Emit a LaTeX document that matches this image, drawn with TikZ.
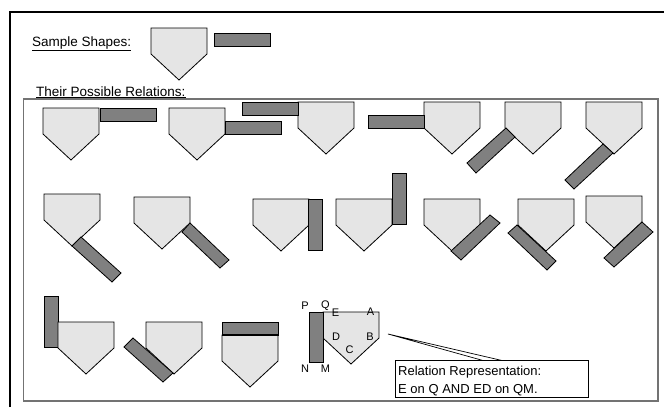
\documentclass[tikz,border=0pt]{standalone}
\usepackage{fontspec}
\setmainfont{Liberation Sans}
\newcommand\pentshape[2]{\draw[pentstyle] (#1,#2) -- ++(56,0) -- ++(0,26) -- ++(-28,26) -- ++(-28,-26) -- cycle;}
\newcommand\horizbar[2]{\draw[barstyle] (#1,#2) rectangle ++(56,13);}
\newcommand\vertbar[2]{\draw[barstyle] (#1,#2) rectangle ++(14,51);}
\begin{document}
\begin{tikzpicture}[x=1pt,y=-1pt,
  pentstyle/.style={draw=black,fill=black!10,line width=0.8pt,line join=miter},
  barstyle/.style={draw=black,fill=black!50,line width=0.8pt},
  lbl/.style={font=\fontsize{11}{12}\selectfont,inner sep=0pt,anchor=center},
  head/.style={font=\fontsize{13.5}{15}\selectfont,inner sep=0pt,anchor=base west}]
\useasboundingbox (0,0) rectangle (664,407);
\fill[white] (0,0) rectangle (664,407);
% outer frame (open to right and bottom)
\draw[line width=2pt] (10,407) -- (10,12) -- (664,12);
% inner box
\draw[draw=black!55,line width=1.5pt] (23.5,99) rectangle (658,401);
% headings
\node[head] (ss) at (32,46) {\underline{Sample Shapes:}};
\node[head] (tpr) at (36,96) {\underline{Their Possible Relations:}};
% sample shapes
\pentshape{151}{28}
\horizbar{214}{33}
% row 1
\pentshape{43}{108}  \horizbar{100}{108}
\pentshape{169}{108} \horizbar{225}{121}
\pentshape{298}{102} \horizbar{242}{102}
\pentshape{424}{102} \horizbar{368}{115}
\pentshape{505}{102}
\draw[barstyle] (506,128) -- (515,137) -- (476,173) -- (467,163) -- cycle;
\pentshape{586}{102}
\draw[barstyle] (603,144) -- (613,153) -- (574,189) -- (565,180) -- cycle;
% row 2
\pentshape{44}{194}
\draw[barstyle] (72,246) -- (81,237) -- (121,273) -- (112,282) -- cycle;
\pentshape{134}{197}
\draw[barstyle] (190,223) -- (182,232) -- (220,268) -- (229,260) -- cycle;
\pentshape{253}{199} \vertbar{308}{199}
\pentshape{336}{199} \vertbar{392}{173}
\pentshape{424}{199}
\draw[barstyle] (451,251) -- (461,260) -- (500,223) -- (490,215) -- cycle;
\pentshape{518}{199}
\draw[barstyle] (517,225) -- (508,233) -- (547,270) -- (556,261) -- cycle;
\pentshape{586}{196}
\draw[barstyle] (642,222) -- (653,232) -- (614,267) -- (604,258) -- cycle;
% row 3
\vertbar{44}{296} \pentshape{58}{322}
\pentshape{146}{322}
\draw[barstyle] (133,338) -- (124,347) -- (163,382) -- (173,373) -- cycle;
\pentshape{222}{335}
\draw[barstyle] (222,322) rectangle (278,335);
\draw[line width=2pt] (222,335) -- (278,335);
% labelled example
\pentshape{323}{312}
\draw[barstyle] (309,312) rectangle (323,362);
\node[lbl] (P) at (305,306) {P};
\node[lbl] (Q) at (325.5,306) {Q};
\node[lbl] (E) at (335.5,313) {E};
\node[lbl] (A) at (370.5,312) {A};
\node[lbl] (D) at (336,337) {D};
\node[lbl] (B) at (370,337) {B};
\node[lbl] (C) at (349.7,350) {C};
\node[lbl] (N) at (305,369) {N};
\node[lbl] (M) at (325.5,369) {M};
% callout
\coordinate (tip) at (388,334);
\coordinate (w1) at (483,360.5);
\coordinate (w2) at (502,360.5);
\draw[fill=white,line width=0.7pt] (w1) -- (tip) -- (w2);
\node[draw=black,fill=white,line width=0.8pt,minimum width=193pt,minimum height=37pt,inner sep=0pt,anchor=north west] (box) at (395,360) {};
\node[font=\fontsize{13}{14}\selectfont,inner sep=0pt,anchor=base west] (t1) at (398,375) {Relation Representation:};
\node[font=\fontsize{13}{14}\selectfont,inner sep=0pt,anchor=base west] (t2) at (398,393) {E on Q AND ED on QM.};
\end{tikzpicture}
\end{document}
